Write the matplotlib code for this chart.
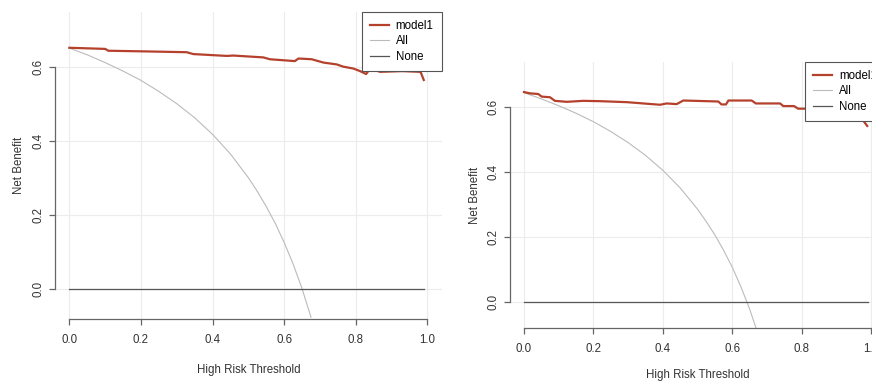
import matplotlib
matplotlib.use("Agg")
import matplotlib.pyplot as plt

# decision curves, values
# left panel
thr_m1_left = [0.0, 0.10, 0.109, 0.225, 0.328, 0.346, 0.44, 0.458, 0.542, 0.56, 0.63, 0.64,
               0.677, 0.71, 0.747, 0.765, 0.793, 0.812, 0.829, 0.84, 0.868, 0.93, 0.981, 0.99]
nb_m1_left = [0.651, 0.648, 0.643, 0.641, 0.639, 0.634, 0.629, 0.630, 0.625, 0.620, 0.615, 0.622,
              0.620, 0.611, 0.606, 0.600, 0.595, 0.588, 0.580, 0.595, 0.586, 0.588, 0.586, 0.564]
thr_all = [0.0, 0.05, 0.10, 0.15, 0.20, 0.25, 0.30, 0.35, 0.40, 0.45, 0.50, 0.525,
           0.55, 0.575, 0.60, 0.625, 0.65, 0.675]
nb_all_left = [0.650, 0.632, 0.611, 0.588, 0.563, 0.533, 0.500, 0.462, 0.417, 0.364, 0.300, 0.263,
               0.222, 0.177, 0.125, 0.067, 0.000, -0.077]
# right panel
thr_m1_right = [0.0, 0.017, 0.041, 0.051, 0.075, 0.089, 0.123, 0.171, 0.219, 0.296, 0.392, 0.411,
                0.44, 0.459, 0.56, 0.569, 0.582, 0.589, 0.656, 0.668, 0.738, 0.747, 0.778, 0.79,
                0.843, 0.90, 0.954, 0.973, 0.989]
nb_m1_right = [0.645, 0.641, 0.639, 0.631, 0.629, 0.618, 0.615, 0.618, 0.617, 0.614, 0.606, 0.610,
               0.608, 0.619, 0.616, 0.607, 0.607, 0.619, 0.619, 0.610, 0.610, 0.602, 0.602, 0.594,
               0.594, 0.594, 0.580, 0.564, 0.541]
nb_all_right = [0.643, 0.624, 0.603, 0.580, 0.554, 0.524, 0.490, 0.451, 0.405, 0.351, 0.286, 0.248,
                0.207, 0.160, 0.108, 0.048, -0.020, -0.099]
thr_none = [0.0, 0.99]
nb_none = [0.0, 0.0]

x_ticks = [0.0, 0.2, 0.4, 0.6, 0.8, 1.0]
y_ticks = [0.0, 0.2, 0.4, 0.6]
legend_labels = ["model1", "All", "None"]

plt.rcParams["font.family"] = ["Liberation Sans Narrow", "Liberation Sans", "DejaVu Sans"]
plt.rcParams["font.size"] = 8.3

red = "#b5412c"
axis_col = "#666666"
text_col = "#333333"

fig = plt.figure(figsize=(8.72, 3.81), dpi=100)
ax1 = fig.add_axes([0.0631, 0.1617, 0.4434, 0.8071])
ax2 = fig.add_axes([0.585, 0.138, 0.4298, 0.700])

# axes, curves, ylim, xlabel pad, ylabel pad
panels = [
    (ax1, thr_m1_left, nb_m1_left, nb_all_left, (-0.083, 0.748), 13, 6),
    (ax2, thr_m1_right, nb_m1_right, nb_all_right, (-0.080, 0.738), 9.5, 5),
]

for ax, tx, ty, ally, ylim, xpad, ypad in panels:
    ax.set_xlim(-0.04, 1.04)
    ax.set_ylim(*ylim)
    for g in x_ticks:
        ax.axvline(g, color="#ececec", lw=0.8, zorder=0)
    for g in y_ticks:
        ax.axhline(g, color="#ececec", lw=0.8, zorder=0)
    l1, = ax.plot(tx, ty, color=red, lw=1.6, zorder=3)
    l2, = ax.plot(thr_all, ally, color="#bbbbbb", lw=0.8, zorder=2)
    l3, = ax.plot(thr_none, nb_none, color="#555555", lw=0.9, zorder=2)

    for s in ["top", "right"]:
        ax.spines[s].set_visible(False)
    ax.spines["bottom"].set_bounds(0, 1)
    ax.spines["left"].set_bounds(0, 0.6)
    for s in ["bottom", "left"]:
        ax.spines[s].set_color(axis_col)
        ax.spines[s].set_linewidth(0.9)
    ax.set_xticks(x_ticks)
    ax.set_xticklabels(["%.1f" % v for v in x_ticks])
    ax.set_yticks(y_ticks)
    ax.set_yticklabels(["%.1f" % v for v in y_ticks], rotation=90, va="center")
    ax.tick_params(axis="x", length=4.3, width=0.9, color=axis_col, labelcolor=text_col, pad=6.5)
    ax.tick_params(axis="y", length=4.3, width=0.9, color=axis_col, labelcolor=text_col, pad=3)
    ax.set_xlabel("High Risk Threshold", color=text_col, labelpad=xpad)
    ax.set_ylabel("Net Benefit", color=text_col, labelpad=ypad)

    leg = ax.legend([l1, l2, l3], legend_labels, loc="upper right", borderaxespad=0,
                    fancybox=False, framealpha=1, edgecolor="#555555", handlelength=1.65,
                    handletextpad=0.6, labelspacing=0.3, borderpad=0.7)
    leg.get_frame().set_linewidth(0.8)
    leg.set_zorder(5)

fig.savefig("out.png", dpi=100)
